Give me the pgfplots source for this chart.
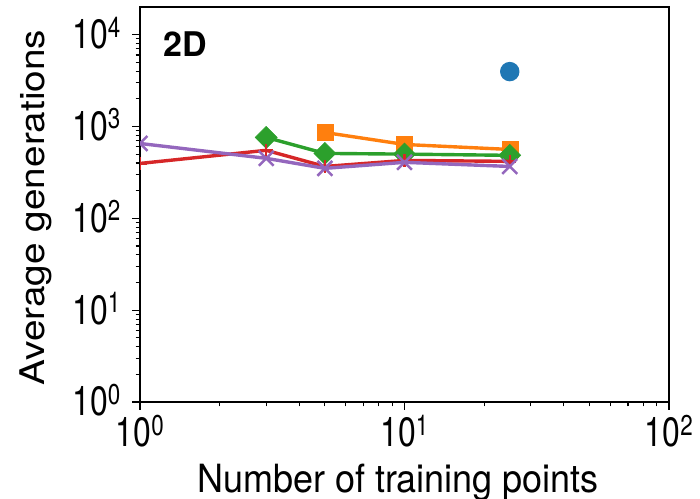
\documentclass[border=0pt]{standalone}
\usepackage{graphicx}
\usepackage{pgfplots}
\pgfplotsset{compat=1.18}
\usetikzlibrary{calc}
\usepackage{fontspec}
\setmainfont{TeX Gyre Heros}

\definecolor{tabblue}{HTML}{1F77B4}
\definecolor{taborange}{HTML}{FF7F0E}
\definecolor{tabgreen}{HTML}{2CA02C}
\definecolor{tabred}{HTML}{D62728}
\definecolor{tabpurple}{HTML}{9467BD}

% tall power-of-ten tick labels
\newcommand{\pt}[1]{\scalebox{1}[1.28]{10\textsuperscript{#1}}}

\begin{document}
\begin{tikzpicture}
\begin{axis}[
  scale only axis,
  width=529pt, height=395pt,
  xmode=log, ymode=log,
  xmin=1, xmax=100, ymin=1, ymax=20000,
  axis line style={line width=1.6pt},
  tick align=outside,
  xtick pos=bottom, ytick pos=left,
  major tick length=8pt, minor tick length=4.5pt,
  every tick/.style={black, line width=1.1pt},
  xtick={1,10,100},
  xticklabels={\pt{0},\pt{1},\pt{2}},
  minor xtick={2,3,...,9,20,30,...,90},
  ytick={1,10,100,1000,10000},
  yticklabels={\pt{0},\pt{1},\pt{2},\pt{3},\pt{4}},
  minor ytick={2,3,...,9,20,30,...,90,200,300,...,900,2000,3000,...,9000},
  ticklabel style={font=\fontsize{32}{36}\selectfont},
  xticklabel style={anchor=base, inner sep=0pt, yshift=-37pt},
  yticklabel style={anchor=base east, inner sep=0pt, xshift=-11pt, yshift=-14pt},
  clip marker paths=true,
  every axis plot/.append style={line width=3.4pt},
]
% single run at 25 training points
\addplot[only marks, mark=*, color=tabblue, mark size=8pt] coordinates {(25,3960)};
% squares
\addplot[color=taborange, mark=square*, mark size=8pt, mark options={line width=0.5pt}]
  coordinates {(5,860) (10,637) (25,562)};
% diamonds
\addplot[color=tabgreen, mark=square*, mark size=7.8pt, mark options={rotate=45, line width=0.5pt}]
  coordinates {(3,760) (5,509) (10,500) (25,485)};
% plus marks
\addplot[color=tabred, mark=+, mark size=6.5pt, mark options={line width=2.5pt}]
  coordinates {(1,396) (3,550) (5,367) (10,427) (25,417)};
% crosses
\addplot[color=tabpurple, mark=x, mark size=10.5pt, mark options={line width=2.5pt}]
  coordinates {(1,653) (3,450) (5,350) (10,407) (25,367)};
\coordinate (sw) at (rel axis cs:0,0);
\coordinate (ne) at (rel axis cs:1,1);
\end{axis}

% panel tag
\node[anchor=base west, inner sep=0pt, font=\fontsize{34}{38}\selectfont\bfseries]
  at ([xshift=23pt,yshift=-50pt]sw|-ne) {2D};
% axis labels
\node[anchor=base, inner sep=0pt, font=\fontsize{36}{40}\selectfont]
  at ([xshift=258pt,yshift=-91pt]sw) {\scalebox{1}[1.08]{Number of training points}};
\path let \p1=(sw), \p2=(ne) in
  node[anchor=base, rotate=90, inner sep=0pt, font=\fontsize{34}{38}\selectfont]
  at (\x1-95pt, {0.5*(\y1+\y2)-3pt}) {\scalebox{1.14}[1]{Average generations}};

\pgfresetboundingbox
\path[use as bounding box] ([xshift=-140pt,yshift=-97pt]sw) rectangle ([xshift=31pt,yshift=7pt]ne);
\end{tikzpicture}
\end{document}
